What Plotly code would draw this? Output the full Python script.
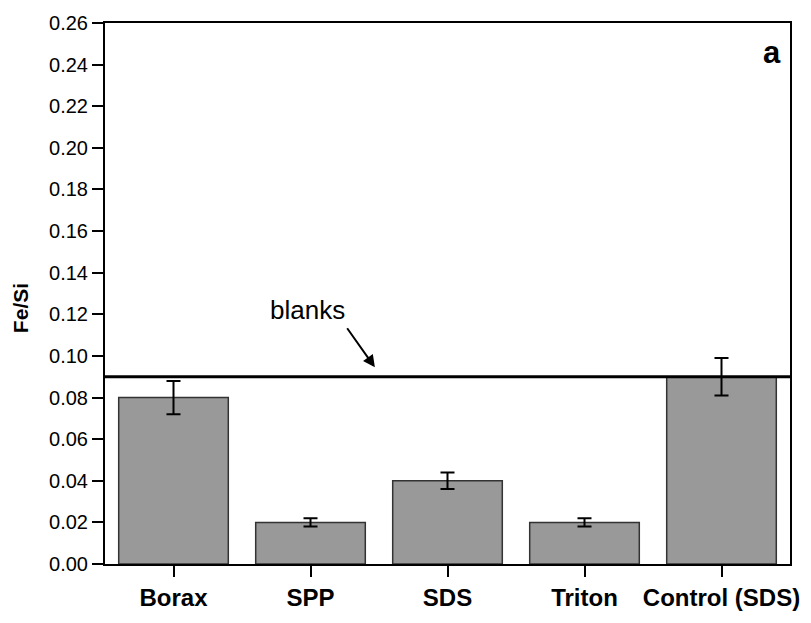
import plotly.graph_objects as go

categories = ["Borax", "SPP", "SDS", "Triton", "Control (SDS)"]
fe_si = [0.080, 0.020, 0.040, 0.020, 0.090]
fe_si_err = [0.008, 0.002, 0.004, 0.002, 0.009]
blank_level = 0.090
y_ticks = [0.00, 0.02, 0.04, 0.06, 0.08, 0.10, 0.12, 0.14, 0.16, 0.18, 0.20, 0.22, 0.24, 0.26]

fig = go.Figure()
fig.add_trace(go.Bar(
    x=categories, y=fe_si,
    width=0.8,
    marker=dict(color="#999999", line=dict(color="#333333", width=1.5)),
    error_y=dict(type="data", array=fe_si_err, visible=True,
                 color="black", thickness=2, width=7),
    showlegend=False,
))

fig.add_shape(type="line", xref="paper", yref="y", x0=0, x1=1,
              y0=blank_level, y1=blank_level,
              line=dict(color="black", width=3))

fig.add_annotation(x=1.47, y=0.0945, ax=1.26, ay=0.114,
                   xref="x", yref="y", axref="x", ayref="y",
                   text="", showarrow=True, arrowhead=2, arrowsize=1.2,
                   arrowwidth=2, arrowcolor="black")
fig.add_annotation(x=0.98, y=0.122, xref="x", yref="y", text="blanks",
                   showarrow=False, font=dict(family="Liberation Sans, Arial", size=26, color="black"))
fig.add_annotation(x=0.99, y=0.945, xref="paper", yref="paper", text="<b>a</b>",
                   showarrow=False, xanchor="right", yanchor="middle",
                   font=dict(family="Liberation Sans, Arial", size=31, color="black"))
# y-axis title (placed slightly below the axis centre, as in the original)
fig.add_annotation(x=-0.124, y=0.123, xref="paper", yref="y", text="<b>Fe/Si</b>",
                   textangle=-90, showarrow=False, xanchor="center", yanchor="middle",
                   font=dict(family="Liberation Sans, Arial", size=21, color="black"))

fig.update_layout(
    width=811, height=623,
    margin=dict(l=105, r=14, t=19, b=44),
    paper_bgcolor="white", plot_bgcolor="white",
    font=dict(family="Liberation Sans, Arial", color="black"),
    bargap=0.2,
)
fig.update_xaxes(
    range=[-0.5, 4.5],
    showline=True, linecolor="black", linewidth=2, mirror=True,
    ticks="outside", ticklen=11, tickwidth=2, tickcolor="black",
    tickfont=dict(size=24, family="Liberation Sans, Arial"),
    tickprefix="<b>", ticksuffix="</b>",
    showgrid=False, zeroline=False,
)
fig.update_yaxes(
    range=[0, 0.26],
    tickvals=y_ticks, ticktext=[f"{v:.2f}" for v in y_ticks],
    showline=True, linecolor="black", linewidth=2, mirror=True,
    ticks="outside", ticklen=11, tickwidth=2, tickcolor="black",
    tickfont=dict(size=20),
    showgrid=False, zeroline=False,
)

fig.write_html("out.html", config={"displayModeBar": False},
               post_script="document.body.style.margin='0';document.body.style.overflow='hidden';")
